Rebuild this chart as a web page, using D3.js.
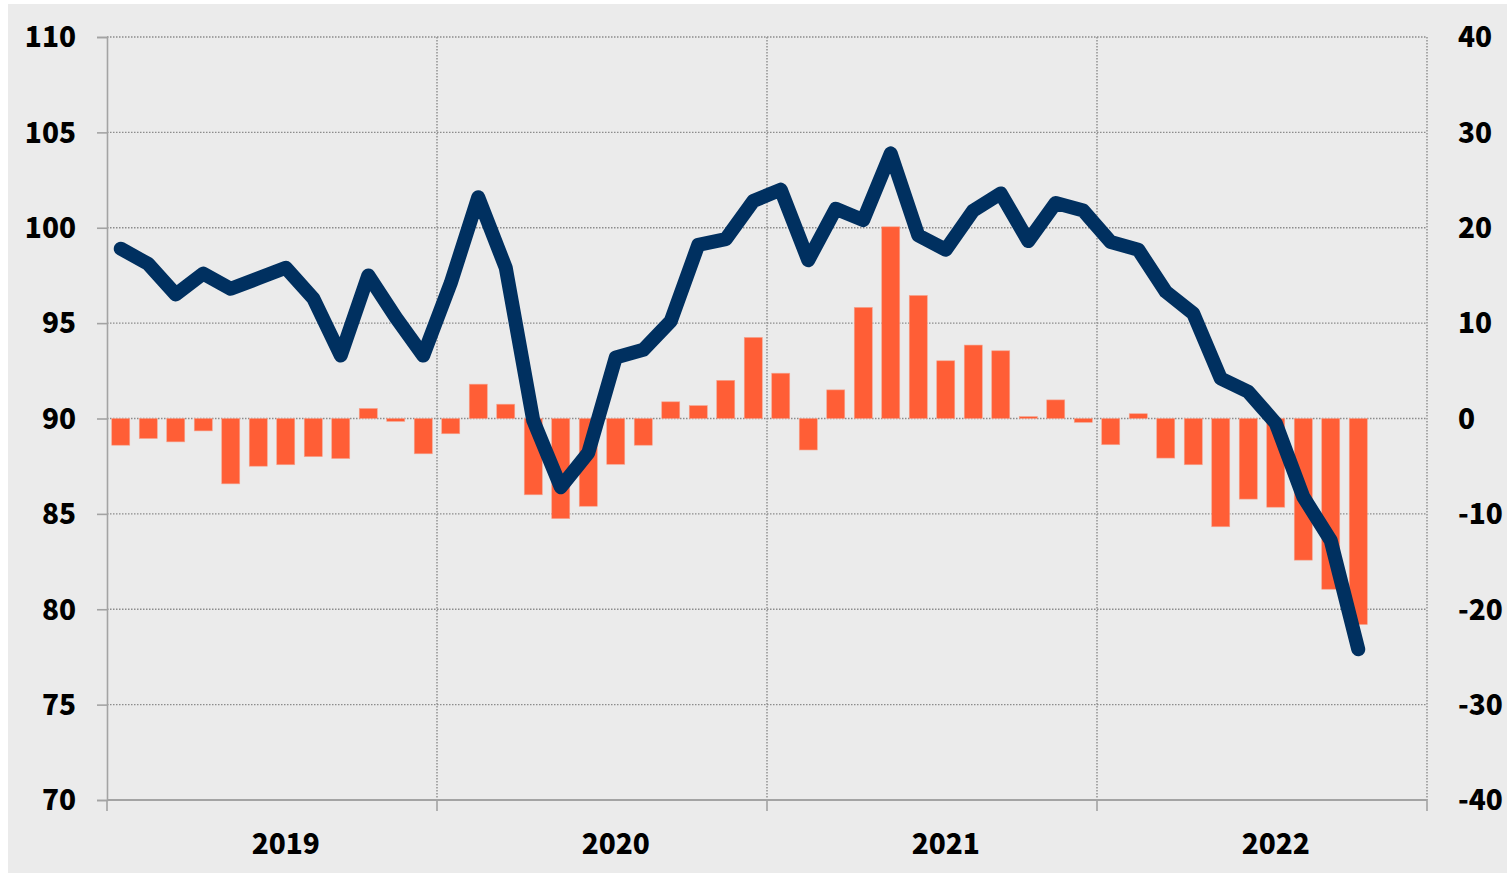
<!DOCTYPE html>
<html>
<head>
<meta charset="utf-8">
<script src="https://cdn.jsdelivr.net/npm/d3@7"></script>
<style>
  html, body { margin: 0; padding: 0; background: #ffffff; }
  svg { display: block; }
  text { font-family: "Noto Sans CJK KR", "Noto Sans", sans-serif; font-weight: 900; fill: #000; }
</style>
</head>
<body>
<svg id="chart" width="1507" height="874"></svg>
<script>
// ---- data ----
const years = ["2019", "2020", "2021", "2022"];
const monthNums = ["01","02","03","04","05","06","07","08","09","10","11","12"];
// index (left axis), Jan 2019 .. Oct 2022
const indexValues = [
  98.9, 98.1, 96.5, 97.6, 96.8, 97.35, 97.9, 96.3, 93.3, 97.5, 95.3, 93.3,
  97.1, 101.6, 97.9, 89.9, 86.4, 88.2, 93.2, 93.6, 95.1, 99.1, 99.4, 101.4,
  102.0, 98.3, 101.0, 100.4, 103.9, 99.6, 98.85, 100.9, 101.8, 99.3, 101.3, 100.9,
  99.25, 98.85, 96.65, 95.5, 92.1, 91.4, 89.75, 85.9, 83.6, 77.9
];
// change (right axis), Jan 2019 .. Oct 2022
const changeValues = [
  -2.8, -2.1, -2.45, -1.3, -6.85, -5.0, -4.85, -4.0, -4.2, 1.05, -0.3, -3.7,
  -1.6, 3.6, 1.5, -8.0, -10.5, -9.2, -4.8, -2.8, 1.75, 1.35, 4.0, 8.5,
  4.75, -3.3, 3.0, 11.65, 20.1, 12.9, 6.05, 7.7, 7.1, 0.2, 1.95, -0.4,
  -2.75, 0.5, -4.15, -4.85, -11.35, -8.45, -9.3, -14.85, -17.9, -21.6
];
const leftTicks = [70, 75, 80, 85, 90, 95, 100, 105, 110];
const rightTicks = [-40, -30, -20, -10, 0, 10, 20, 30, 40];

// ---- layout ----
const svg = d3.select("#chart");
const L = 107, R = 1427, T = 37, B = 800;

svg.append("rect").attr("x", 8).attr("y", 4).attr("width", 1499).attr("height", 869).attr("fill", "#ebebeb");

const monthKeys = years.flatMap(y => monthNums.map(m => y + "-" + m));
const x = d3.scaleBand().domain(monthKeys).range([L, R]).paddingInner(0.345).paddingOuter(0.1725);
const xStep = d3.scaleBand().domain(monthKeys).range([L, R]);
const yL = d3.scaleLinear().domain([70, 110]).range([B, T]);
const yR = d3.scaleLinear().domain([-40, 40]).range([B, T]);

const gridColor = "#8c8c8c";
const axisColor = "#a3a3a3";
const fmt = d => String(d);

// horizontal gridlines
svg.append("g").selectAll("line").data(leftTicks.filter(d => d !== 70)).join("line")
  .attr("x1", L).attr("x2", R)
  .attr("y1", d => yL(d)).attr("y2", d => yL(d))
  .attr("stroke", gridColor).attr("stroke-width", 1.4).attr("stroke-dasharray", "1.5,1.5");

// vertical year gridlines
const yearBounds = years.slice(1).map(y => xStep(y + "-01")).concat([R]);
svg.append("g").selectAll("line").data(yearBounds).join("line")
  .attr("x1", d => d).attr("x2", d => d)
  .attr("y1", T).attr("y2", B)
  .attr("stroke", gridColor).attr("stroke-width", 1.4).attr("stroke-dasharray", "1.5,1.5");

// bars
const barData = changeValues.map((v, i) => ({ key: monthKeys[i], v }));
svg.append("g").selectAll("rect").data(barData).join("rect")
  .attr("x", d => x(d.key))
  .attr("width", x.bandwidth())
  .attr("y", d => yR(Math.max(0, d.v)))
  .attr("height", d => Math.abs(yR(d.v) - yR(0)))
  .attr("fill", "#ff5e36")
  .attr("stroke", "#f6a48f").attr("stroke-width", 0.6);

// line
const lineData = indexValues.map((v, i) => ({ key: monthKeys[i], v }));
const line = d3.line().x(d => x(d.key) + x.bandwidth() / 2).y(d => yL(d.v));
svg.append("path").datum(lineData)
  .attr("d", line)
  .attr("fill", "none")
  .attr("stroke", "#003060")
  .attr("stroke-width", 14)
  .attr("stroke-linejoin", "round")
  .attr("stroke-linecap", "round");

// left axis
const gL = svg.append("g").attr("transform", `translate(${L},0)`)
  .call(d3.axisLeft(yL).tickValues(leftTicks).tickSize(10).tickPadding(21).tickFormat(fmt));
gL.select(".domain").attr("stroke", axisColor).attr("stroke-width", 1.6);
gL.selectAll(".tick line").attr("stroke", axisColor).attr("stroke-width", 1.6);
gL.selectAll(".tick text").style("font-size", "28px").attr("dy", "0.35em");

// right axis (labels only)
const gR = svg.append("g").attr("transform", `translate(${R},0)`)
  .call(d3.axisRight(yR).tickValues(rightTicks).tickSize(0).tickPadding(31).tickFormat(fmt));
gR.select(".domain").remove();
gR.selectAll(".tick text").style("font-size", "28px").attr("dy", "0.35em");

// bottom axis
svg.append("line").attr("x1", L).attr("x2", R).attr("y1", B).attr("y2", B)
  .attr("stroke", axisColor).attr("stroke-width", 2);
svg.append("g").selectAll("line").data([L].concat(yearBounds)).join("line")
  .attr("x1", d => d).attr("x2", d => d).attr("y1", B).attr("y2", B + 11)
  .attr("stroke", axisColor).attr("stroke-width", 1.6);
svg.append("g").selectAll("text").data(years).join("text")
  .attr("x", d => x(d + "-07") + x.bandwidth() / 2)
  .attr("y", 844)
  .attr("dy", "0.35em")
  .attr("text-anchor", "middle")
  .style("font-size", "28px")
  .text(d => d);
</script>
</body>
</html>
